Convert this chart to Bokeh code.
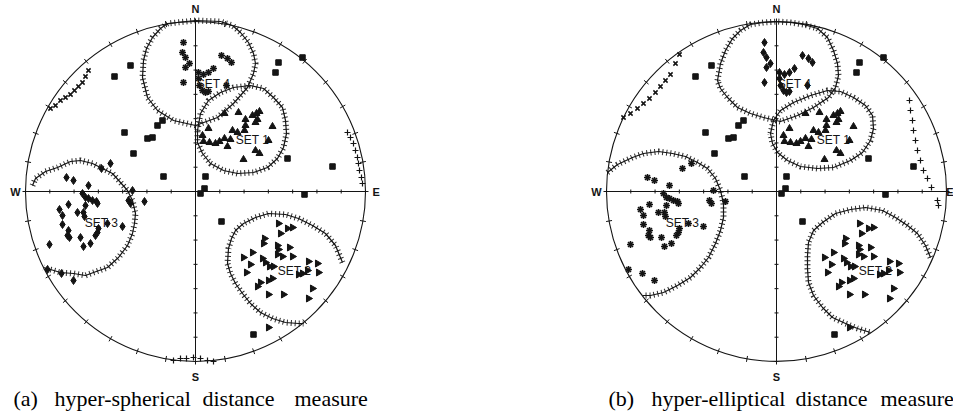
import numpy as np
from bokeh.plotting import figure
from bokeh.embed import file_html
from bokeh.resources import INLINE
from bokeh.core.properties import value

# ---------------- data (net units: primitive radius = 170) ----------------
SET1_X = [29, 43, 50, 50, 49, 57, 61, 62, 64, 60, 77, 73, 42, 37, 13, 7, 8, 14, 20, 24, 29, 35, 32, 48, 60, 64]
SET1_Y = [78, 79, 72, 66, 61, 76, 78, 72, 80, 69, 65, 51, 59, 61, 63, 56, 50, 49, 48, 50, 53, 52, 45, 32, 41, 38]

SET2_X = [83, 92, 97, 85, 69, 68, 82, 83, 94, 82, 87, 97, 48, 57, 67, 70, 74, 78, 55, 51, 65, 62, 73, 77, 73, 88,
          113, 122, 123, 112, 107, 103, 117, 113, 73]
SET2_Y = [-32, -37, -36, -42, -47, -52, -54, -58, -56, -63, -65, -65, -66, -61, -67, -71, -75, -75, -73, -81, -91,
          -95, -89, -87, -103, -103, -70, -72, -81, -79, -82, -83, -97, -107, -136]

SET3_X = [-129, -122, -107, -113, -110, -107, -103, -99, -98, -127, -136, -133, -110, -118, -112, -111, -133, -127,
          -128, -126, -115, -112, -105, -100, -98, -97, -88, -73, -67, -65, -51, -85, -146, -122, -63, -134, -148, -94]
SET3_Y = [14, 11, 6, -2, -6, -7, -9, -10, -12, -13, -18, -24, -14, -21, -21, -25, -33, -39, -44, -46, -46, -55,
          -52, -44, -41, -37, -32, -35, -9, -12, -10, 28, -53, -89, 1, -82, -78, 23]

SET4_X = [-12, -13, -10, -6, -10, -12, 3, 8, 13, 18, 26, 32, 36, 4, 7, 10, 13, 3, 31]
SET4_Y = [149, 139, 134, 128, 124, 109, 119, 117, 119, 123, 136, 133, 129, 106, 101, 99, 100, 113, 106]

OUT_X = [-65, -81, 83, 80, 107, -71, -38, -33, -48, -43, -62, -32, 10, 9, 5, 92, 137, 109, 26, 58]
OUT_Y = [126, 115, 129, 119, 134, 59, 66, 71, 53, 54, 38, 15, 15, 3, -2, 33, 25, -3, -30, -143]

SET_LABELS = ["SET 4", "SET 1", "SET 3", "SET 2"]
LABEL_X = [18, 57, -94, 99]
LABEL_Y = [108, 52, -31, -79]

# cluster boundaries, panel (a) hyper-spherical
A_B4_X = [-28, -35, -43, -49, -52, -53, -48, -38, -22, 0, 22, 38, 52, 58, 60, 58, 53, 45, 37, 25, 0]
A_B4_Y = [168, 163, 154, 143, 131, 114, 94, 81, 71, 66, 74, 88, 104, 118, 128, 138, 149, 159, 166, 170, 171]
A_B1_X = [2, 5, 13, 25, 38, 55, 68, 78, 87, 90, 91, 88, 82, 72, 58, 42, 28, 15, 7, 2]
A_B1_Y = [61, 78, 91, 99, 104, 106, 103, 94, 84, 71, 58, 44, 33, 24, 19, 18, 21, 28, 38, 49]
A_B2_X = [147, 140, 130, 117, 103, 90, 73, 60, 48, 40, 36, 33, 32, 35, 40, 47, 55, 65, 77, 90, 103, 108]
A_B2_Y = [-71, -54, -42, -34, -27, -23, -22, -26, -32, -39, -47, -57, -72, -82, -92, -102, -112, -121, -127,
          -131, -132, -132]
A_B3_X = [-163, -160, -150, -138, -125, -115, -103, -93, -83, -75, -68, -63, -60, -61, -63, -68, -77, -88, -102,
          -110, -122, -135, -145, -152]
A_B3_Y = [6, 13, 20, 24, 30, 31, 28, 23, 18, 9, 1, -9, -22, -32, -42, -54, -66, -76, -81, -84, -82, -81, -78, -76]
A_WRAP_S_X = [-22, -15, -9, -2, 5, 12, 18]
A_WRAP_S_Y = [-169, -167, -167, -166, -167, -169, -170]
A_WRAP_E_X = [152, 155, 158, 160, 162, 163, 164, 166, 167]
A_WRAP_E_Y = [59, 54, 48, 41, 34, 28, 21, 14, 8]
A_WRAP_NW_X = [-145, -140, -135, -130, -125, -121, -117, -113, -110, -107]
A_WRAP_NW_Y = [83, 86, 91, 94, 97, 101, 105, 109, 115, 121]

# cluster boundaries, panel (b) hyper-elliptical
B_B4_X = [-59, -56, -51, -44, -36, -26, -13, 1, 14, 27, 41, 51, 57, 61, 62, 59, 52, 37, 21, 4, -13, -26, -39, -49, -56]
B_B4_Y = [111, 128, 141, 153, 161, 167, 169, 170, 169, 167, 163, 154, 141, 128, 116, 104, 94, 84, 76, 70, 74, 78,
          84, 94, 103]
B_B1_X = [-6, -3, 4, 17, 34, 51, 64, 77, 89, 96, 97, 94, 86, 74, 57, 41, 24, 11, 1, -4]
B_B1_Y = [58, 71, 81, 89, 96, 101, 100, 94, 86, 76, 63, 51, 39, 31, 24, 23, 25, 31, 39, 48]
B_B2_X = [154, 149, 141, 131, 119, 106, 89, 74, 59, 46, 37, 32, 31, 31, 32, 37, 46, 56, 69, 81, 94]
B_B2_Y = [-66, -54, -42, -34, -26, -19, -16, -18, -22, -31, -39, -51, -64, -77, -91, -104, -116, -126, -132,
          -137, -141]
B_B3_X = [-169, -159, -144, -133, -118, -104, -91, -79, -69, -61, -56, -53, -53, -56, -61, -68, -76, -86, -99,
          -113, -126, -134]
B_B3_Y = [19, 27, 34, 38, 40, 38, 35, 29, 23, 13, 1, -12, -26, -39, -52, -66, -76, -86, -94, -101, -104, -104]
B_WRAP_E_X = [133, 134, 136, 137, 139, 141, 144, 147, 151, 155, 161, 162]
B_WRAP_E_Y = [91, 81, 71, 61, 51, 41, 31, 21, 13, 4, -9, -14]
B_WRAP_NW_X = [-153, -146, -139, -133, -127, -121, -116, -111, -106, -101, -97]
B_WRAP_NW_Y = [74, 78, 83, 88, 93, 99, 105, 111, 117, 128, 137]

CAPTION_A = ["(a)", "hyper-spherical", "distance", "measure"]
CAPTION_B = ["(b)", "hyper-elliptical", "distance", "measure"]

# ---------------- layout constants ----------------
R = 170
CX = [0, 581]          # centre of each net along x
INK = "#141414"
SANS = value("Liberation Sans")
CAP_A_LEFT = [-182, -141, 7, 99]     # left edge of each caption word (a)
CAP_B_LEFT = [-168, -125, 19, 104]   # left edge of each caption word (b), relative to net centre

p = figure(width=953, height=414, x_range=(-195, 758), y_range=(-223, 191),
           output_backend="svg", toolbar_location=None, min_border=0,
           x_axis_location=None, y_axis_location=None)
p.grid.visible = False
p.outline_line_color = None
p.background_fill_color = "white"
p.border_fill_color = "white"


def sh(xs, cx):
    return [x + cx for x in xs]


def chain(xs, ys, cx, closed=False):
    xs = list(xs)
    ys = list(ys)
    if closed:
        xs.append(xs[0])
        ys.append(ys[0])
    xs = sh(xs, cx)
    p.line(xs, ys, line_color=INK, line_width=1.2)
    p.line(xs, ys, line_color=INK, line_width=6, line_dash="1 3", line_alpha=0.9)


def frame(cx, e_right_edge=False):
    p.circle(x=[cx], y=[0], radius=R, fill_color=None, line_color=INK, line_width=1.1)
    ang = np.deg2rad(np.arange(0, 360, 10))
    p.segment(x0=cx + (R - 3) * np.sin(ang), y0=(R - 3) * np.cos(ang),
              x1=cx + (R + 3) * np.sin(ang), y1=(R + 3) * np.cos(ang), line_color=INK, line_width=1)
    p.segment(x0=[cx, cx - R - 2], y0=[R + 2, 0], x1=[cx, cx + R + 2], y1=[-R - 2, 0],
              line_color=INK, line_width=1)
    t = np.array([k * R / 7 for k in range(1, 7)])
    tt = np.concatenate([t, -t])
    p.segment(x0=cx + tt, y0=np.full_like(tt, -2), x1=cx + tt, y1=np.full_like(tt, 2), line_color=INK)
    p.segment(x0=np.full_like(tt, cx - 2), y0=tt, x1=np.full_like(tt, cx + 2), y1=tt, line_color=INK)
    p.text(x=[cx, cx], y=[R + 13, -R - 15], text=["N", "S"], text_font=SANS, text_font_size="11px",
           text_font_style="bold", text_align="center", text_baseline="middle", text_color=INK)
    p.text(x=[cx - 180], y=[0], text=["W"], text_font=SANS, text_font_size="11px",
           text_font_style="bold", text_align="center", text_baseline="middle", text_color=INK)
    if e_right_edge:
        p.text(x=[cx + 177], y=[0], text=["E"], text_font=SANS, text_font_size="11px",
               text_font_style="bold", text_align="right", text_baseline="middle", text_color=INK)
    else:
        p.text(x=[cx + 177], y=[0], text=["E"], text_font=SANS, text_font_size="11px",
               text_font_style="bold", text_align="left", text_baseline="middle", text_color=INK)


def points(cx, diamonds_for, stars_for):
    p.scatter(sh(SET1_X, cx), SET1_Y, marker="triangle", size=7, fill_color=INK, line_color=INK)
    p.scatter(sh(SET2_X, cx), SET2_Y, marker="triangle", angle=-np.pi / 2, size=7, fill_color=INK, line_color=INK)
    xs, ys = diamonds_for
    p.scatter(sh(xs, cx), ys, marker="diamond", size=8, fill_color=INK, line_color=INK)
    xs, ys = stars_for
    p.scatter(sh(xs, cx), ys, marker="asterisk", size=7, line_color=INK, line_width=1.6)
    p.scatter(sh(OUT_X, cx), OUT_Y, marker="square", size=5.5, fill_color=INK, line_color=INK)
    p.text(x=sh(LABEL_X, cx), y=LABEL_Y, text=SET_LABELS, text_font=SANS, text_font_size="12px",
           text_align="center", text_baseline="middle", text_color=INK)


# ---------------- panel (a) ----------------
ca = CX[0]
frame(ca)
chain(A_B4_X, A_B4_Y, ca, closed=True)
chain(A_B1_X, A_B1_Y, ca, closed=True)
chain(A_B2_X, A_B2_Y, ca)
chain(A_B3_X, A_B3_Y, ca)
p.scatter(sh(A_WRAP_S_X, ca), A_WRAP_S_Y, marker="cross", size=6, line_color=INK, line_width=1.2)
p.scatter(sh(A_WRAP_E_X, ca), A_WRAP_E_Y, marker="cross", size=6, line_color=INK, line_width=1.2)
p.scatter(sh(A_WRAP_NW_X, ca), A_WRAP_NW_Y, marker="x", size=6, line_color=INK, line_width=1.5)
points(ca, (SET3_X, SET3_Y), (SET4_X, SET4_Y))

# ---------------- panel (b) ----------------
cb = CX[1]
frame(cb, e_right_edge=True)
chain(B_B4_X, B_B4_Y, cb, closed=True)
chain(B_B1_X, B_B1_Y, cb, closed=True)
chain(B_B2_X, B_B2_Y, cb)
chain(B_B3_X, B_B3_Y, cb)
p.scatter(sh(B_WRAP_E_X, cb), B_WRAP_E_Y, marker="cross", size=6, line_color=INK, line_width=1.2)
p.scatter(sh(B_WRAP_NW_X, cb), B_WRAP_NW_Y, marker="x", size=6, line_color=INK, line_width=1.5)
points(cb, (SET4_X, SET4_Y), (SET3_X, SET3_Y))

# ---------------- captions ----------------
SERIF = value("Liberation Serif")
p.text(x=sh(CAP_A_LEFT, ca), y=[-207] * 4, text=CAPTION_A, text_font=SERIF,
       text_font_size="22px", text_align="left", text_baseline="middle", text_color="#000000")
p.text(x=sh(CAP_B_LEFT, cb), y=[-207] * 4, text=CAPTION_B, text_font=SERIF,
       text_font_size="22px", text_align="left", text_baseline="middle", text_color="#000000")

open("out.html", "w").write(file_html(p, INLINE))
